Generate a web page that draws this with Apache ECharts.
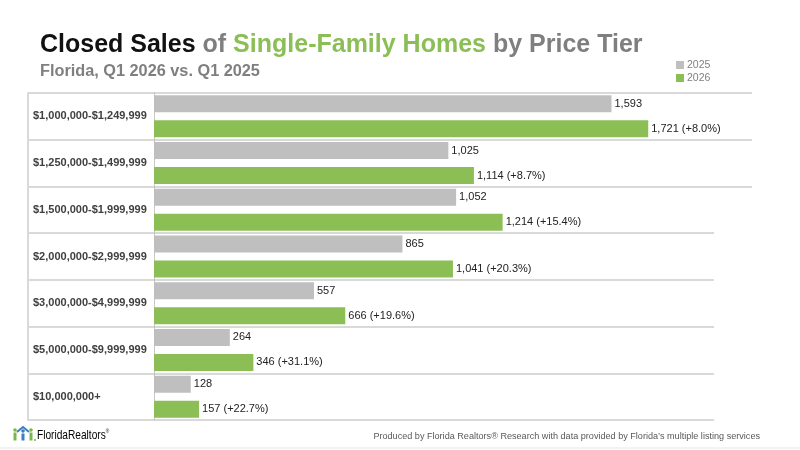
<!DOCTYPE html>
<html>
<head>
<meta charset="utf-8">
<script src="https://cdn.jsdelivr.net/npm/echarts@6/dist/echarts.min.js"></script>
<style>
  html, body { margin: 0; padding: 0; background: #fff; }
  #chart { width: 800px; height: 450px; }
</style>
</head>
<body>
<div id="chart"></div>
<script>
// price tiers, top to bottom
var tiers = ['$1,000,000-$1,249,999', '$1,250,000-$1,499,999', '$1,500,000-$1,999,999',
  '$2,000,000-$2,999,999', '$3,000,000-$4,999,999', '$5,000,000-$9,999,999', '$10,000,000+'];
var sales2025 = [1593, 1025, 1052, 865, 557, 264, 128];
var sales2026 = [1721, 1114, 1214, 1041, 666, 346, 157];
var pctChange = ['+8.0%', '+8.7%', '+15.4%', '+20.3%', '+19.6%', '+31.1%', '+22.7%'];

var FONT = 'Liberation Sans, Arial, sans-serif';
var GRAY = '#bfbfbf', GREEN = '#8bbf56', LINE = '#d9d9d9', NONE = 'rgba(0,0,0,0)';

var myChart = echarts.init(document.getElementById('chart'));

function fmt(v) { return v.toLocaleString('en-US'); }

option = {
  backgroundColor: '#fff',
  textStyle: { fontFamily: FONT },
  title: [
    {
      left: 40, top: 33, padding: 0,
      text: '{k|Closed Sales} {g|of} {gr|Single-Family Homes} {g|by Price Tier}',
      textStyle: {
        fontFamily: FONT, fontSize: 25, fontWeight: 'bold', color: '#7f7f7f',
        rich: {
          k: { fontFamily: FONT, fontSize: 25, fontWeight: 'bold', color: '#111' },
          g: { fontFamily: FONT, fontSize: 25, fontWeight: 'bold', color: '#7f7f7f' },
          gr: { fontFamily: FONT, fontSize: 25, fontWeight: 'bold', color: '#8bbf56' }
        }
      }
    },
    {
      left: 40, top: 64, padding: 0,
      text: 'Florida, Q1 2026 vs. Q1 2025',
      textStyle: { fontFamily: FONT, fontSize: 16.3, fontWeight: 'bold', color: '#7f7f7f' }
    },
    {
      right: 40, top: 432, padding: 0,
      text: 'Produced by Florida Realtors\u00ae Research with data provided by Florida\u2019s multiple listing services',
      textStyle: { fontFamily: FONT, fontSize: 9.1, fontWeight: 'normal', color: '#595959' }
    }
  ],
  legend: {
    orient: 'vertical', left: 676, top: 59, padding: 0,
    itemWidth: 8, itemHeight: 8, itemGap: 1,
    icon: 'rect',
    textStyle: { fontFamily: FONT, fontSize: 10.5, color: '#808080', lineHeight: 12, padding: [0, 0, 0, -2] },
    data: ['2025', '2026']
  },
  grid: [
    { left: 28, top: 93, width: 126, height: 327 },
    { left: 154, top: 93, width: 560, height: 327 },
    { left: 154, top: 93, width: 598, height: 327 }
  ],
  xAxis: [
    { gridIndex: 0, type: 'value', min: 0, max: 1, show: false },
    { gridIndex: 1, type: 'value', min: 0, max: 1950, show: false },
    { gridIndex: 2, type: 'value', min: 0, max: 1, show: false }
  ],
  yAxis: [
    {
      gridIndex: 0, type: 'category', inverse: true, data: tiers,
      axisLine: { show: true, lineStyle: { color: LINE, width: 2 } },
      axisTick: { show: false },
      splitLine: { show: true, lineStyle: { color: LINE, width: 2 } },
      axisLabel: {
        inside: true, align: 'left', margin: 5,
        fontFamily: FONT, fontSize: 11, fontWeight: 'bold', color: '#404040'
      }
    },
    {
      gridIndex: 1, type: 'category', inverse: true, data: tiers,
      axisLine: { show: true, lineStyle: { color: '#bbb', width: 1, type: 'dotted' } },
      axisTick: { show: false },
      axisLabel: { show: false },
      splitLine: { show: true, lineStyle: { color: LINE, width: 2 } }
    },
    {
      // the upper row lines run on further to the right
      gridIndex: 2, type: 'category', inverse: true, data: tiers,
      axisLine: { show: false }, axisTick: { show: false }, axisLabel: { show: false },
      splitLine: { show: true, lineStyle: { width: 2, color: [LINE, LINE, LINE, NONE, NONE, NONE, NONE, NONE] } }
    }
  ],
  series: [
    {
      name: '2025', type: 'bar', xAxisIndex: 1, yAxisIndex: 1,
      data: sales2025, barWidth: 17, barGap: '47%',
      itemStyle: { color: GRAY },
      label: {
        show: true, position: 'right', distance: 3,
        fontFamily: FONT, fontSize: 11, color: '#222',
        formatter: function (p) { return fmt(p.value); }
      }
    },
    {
      name: '2026', type: 'bar', xAxisIndex: 1, yAxisIndex: 1,
      data: sales2026, barWidth: 17,
      itemStyle: { color: GREEN },
      label: {
        show: true, position: 'right', distance: 3,
        fontFamily: FONT, fontSize: 11, color: '#222',
        formatter: function (p) { return fmt(p.value) + ' (' + pctChange[p.dataIndex] + ')'; }
      }
    }
  ],
  graphic: [
    // logo
    { type: 'circle', shape: { cx: 15, cy: 430, r: 1.8 }, style: { fill: '#7ab648' } },
    { type: 'rect', shape: { x: 13.5, y: 432.5, width: 3, height: 8 }, style: { fill: '#7ab648' } },
    { type: 'polyline', shape: { points: [[17, 432], [23, 427], [29, 432]] }, style: { stroke: '#3a7ebf', lineWidth: 2, fill: null } },
    { type: 'circle', shape: { cx: 23, cy: 431, r: 1.8 }, style: { fill: '#3a7ebf' } },
    { type: 'rect', shape: { x: 21.5, y: 433.5, width: 3, height: 7 }, style: { fill: '#3a7ebf' } },
    { type: 'circle', shape: { cx: 31, cy: 430, r: 1.8 }, style: { fill: '#7ab648' } },
    { type: 'rect', shape: { x: 29.5, y: 432.5, width: 3, height: 8 }, style: { fill: '#7ab648' } },
    { type: 'circle', shape: { cx: 35, cy: 440, r: 1 }, style: { fill: '#7ab648' } },
    {
      type: 'text', x: 37, y: 435, scaleX: 0.78,
      style: {
        text: '{f|Florida}{r|Realtors}{s|\u00ae}',
        verticalAlign: 'middle',
        rich: {
          f: { fontFamily: FONT, fontSize: 13, color: '#7ab648' },
          r: { fontFamily: FONT, fontSize: 13, color: '#3a7ebf' },
          s: { fontFamily: FONT, fontSize: 6, color: '#3a7ebf', verticalAlign: 'top' }
        }
      }
    },
    { type: 'line', shape: { x1: 0, y1: 448, x2: 800, y2: 448 }, style: { stroke: '#e6e6e6', lineWidth: 1 } }
  ]
};

myChart.setOption(option);
</script>
</body>
</html>
